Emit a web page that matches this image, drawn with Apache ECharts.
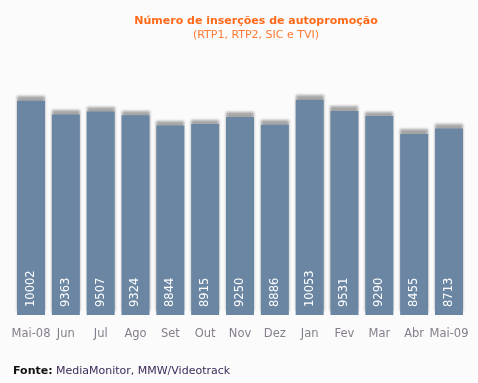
<!DOCTYPE html>
<html><head><meta charset="utf-8">
<script src="https://cdn.jsdelivr.net/npm/echarts@6/dist/echarts.min.js"></script>
<style>html,body{margin:0;padding:0;background:#fbfbfb;}#c{width:478px;height:383px;}</style>
</head><body><div id="c"></div>
<script>
var categories = ['Mai-08','Jun','Jul','Ago','Set','Out','Nov','Dez','Jan','Fev','Mar','Abr','Mai-09'];
var values = [10002, 9363, 9507, 9324, 8844, 8915, 9250, 8886, 10053, 9531, 9290, 8455, 8713];
var titleText = 'Número de inserções de autopromoção';
var subtitleText = '(RTP1, RTP2, SIC e TVI)';
var sourceLabel = 'Fonte:';
var sourceText = 'MediaMonitor, MMW/Videotrack';

var chart = echarts.init(document.getElementById('c'), null, {renderer:'canvas'});
chart.setOption({
  backgroundColor: '#fbfbfb',
  animation: false,
  title: {
    text: titleText, subtext: subtitleText, left: 251, top: 11, textAlign: 'center', itemGap: 3,
    textStyle: {fontFamily: 'DejaVu Sans', fontSize: 11, fontWeight: 'bold', color: '#ff6a1a'},
    subtextStyle: {fontFamily: 'DejaVu Sans', fontSize: 11, color: '#ff7a33'}
  },
  grid: {left: 13.6, right: 11.6, top: 58, height: 257},
  xAxis: {
    type: 'category', data: categories,
    axisLine: {show: false}, axisTick: {show: false},
    axisLabel: {interval: 0, margin: 13, fontFamily: 'DejaVu Sans', fontSize: 11.5, color: '#857d8c'}
  },
  yAxis: {type: 'value', min: 0, max: 12000, show: false, splitLine: {show: false}},
  series: [{
    type: 'bar', data: values, barWidth: 28,
    itemStyle: {color: '#6b86a3', shadowColor: 'rgba(0,0,0,0.34)', shadowBlur: 2.5, shadowOffsetY: -4.5},
    label: {
      show: true, position: 'insideBottom', rotate: 90, distance: 8,
      align: 'left', verticalAlign: 'middle',
      fontFamily: 'DejaVu Sans', fontSize: 11.5, color: '#ffffff'
    }
  }],
  graphic: [{
    type: 'text', left: 13, top: 365,
    style: {
      text: '{b|' + sourceLabel + '} {n|' + sourceText + '}',
      rich: {
        b: {fontFamily: 'DejaVu Sans', fontSize: 11, fontWeight: 'bold', fill: '#111111'},
        n: {fontFamily: 'DejaVu Sans', fontSize: 11, fill: '#3d2b5c'}
      }
    }
  }]
});
</script></body></html>
